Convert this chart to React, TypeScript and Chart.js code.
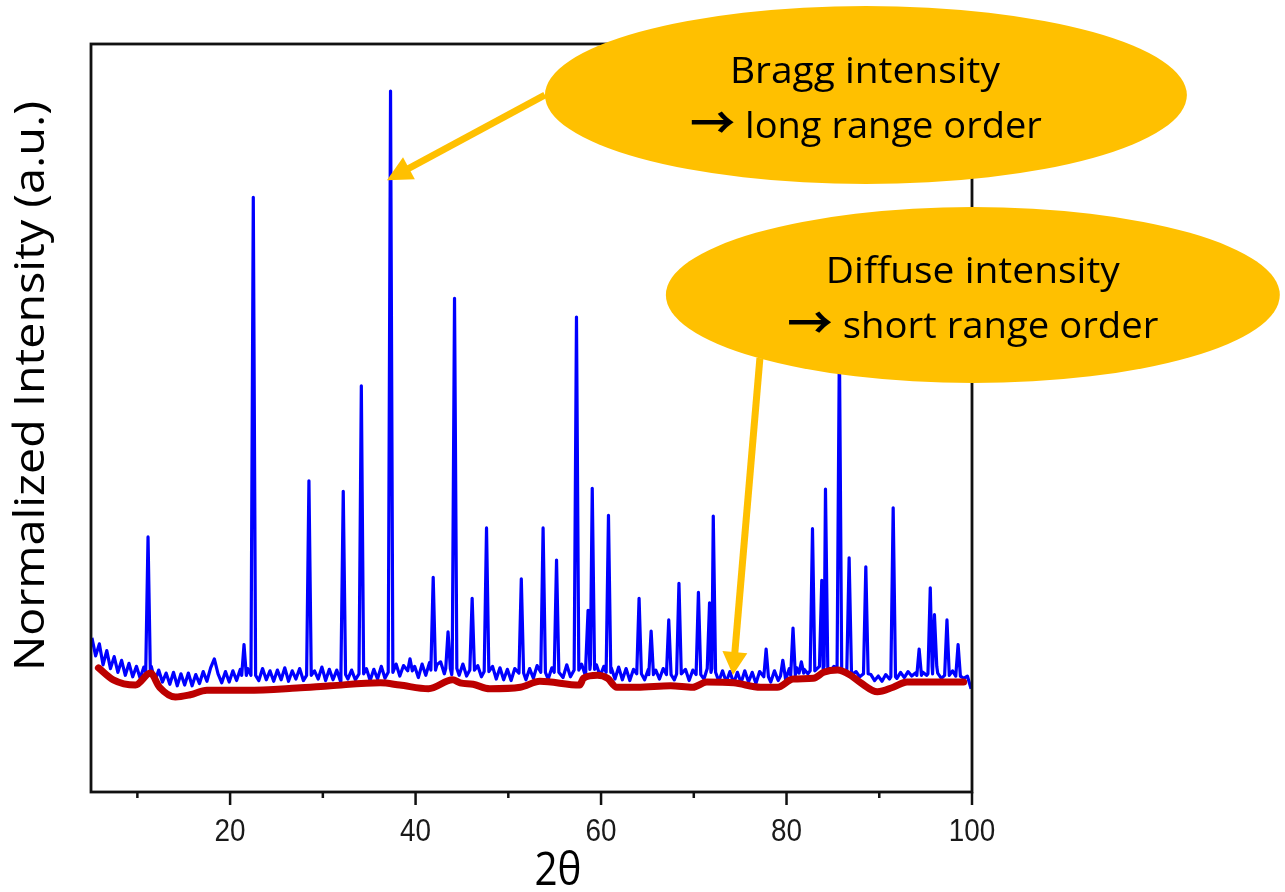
import React, { useEffect, useRef } from "react";
import { Chart, registerables } from "chart.js";

Chart.register(...registerables);

// Measured scan grid (degrees 2θ)
const SCAN_START = 5.1;
const SCAN_STEP = 0.4;

// Background counts on the scan grid (normalized units)
const backgroundCounts = [
  20.6, 18.2, 19.8, 17.0, 18.9, 16.5, 18.1, 16.0, 17.6, 15.6,
  17.2, 15.4, 16.8, 15.2, 16.7, 15.1, 16.8, 14.8, 16.3, 14.7,
  15.9, 14.4, 16.0, 14.2, 15.8, 14.3, 15.9, 14.2, 15.7, 14.5,
  16.1, 14.8, 16.6, 17.8, 15.8, 14.6, 16.1, 14.7, 16.2, 14.9,
  16.4, 15.0, 16.5, 14.8, 16.3, 14.9, 16.5, 15.0, 16.2, 14.8,
  16.3, 15.0, 16.6, 14.8, 16.2, 15.1, 16.5, 14.9, 16.4, 14.8,
  16.2, 15.1, 16.7, 14.9, 16.4, 15.0, 16.3, 14.8, 16.6, 15.1,
  16.3, 15.0, 16.7, 15.1, 16.5, 14.9, 16.4, 15.1, 16.8, 15.2,
  16.6, 15.4, 17.1, 15.5, 16.9, 17.4, 15.4, 16.8, 15.3, 17.1,
  15.6, 17.3, 15.7, 17.0, 17.4, 15.8, 17.4, 15.7, 17.2, 15.6,
  17.1, 15.5, 17.0, 15.3, 16.9, 15.4, 16.7, 15.2, 16.8, 15.1,
  16.6, 15.0, 16.4, 14.9, 16.5, 15.1, 16.7, 15.0, 16.5, 15.2,
  16.9, 15.3, 16.8, 15.1, 16.6, 15.2, 16.7, 15.3, 17.0, 15.4,
  16.9, 15.5, 17.1, 15.6, 17.3, 15.7, 17.0, 15.5, 16.8, 15.2,
  16.6, 15.1, 16.7, 15.0, 16.5, 14.9, 16.4, 15.1, 16.6, 15.0,
  16.4, 14.8, 16.3, 15.1, 16.5, 14.9, 16.3, 15.0, 16.6, 15.1,
  16.4, 14.9, 16.3, 15.0, 16.5, 15.1, 16.7, 15.2, 16.4, 14.8,
  16.2, 14.7, 16.1, 14.5, 16.0, 14.6, 16.2, 14.7, 16.0, 14.5,
  16.1, 14.8, 16.3, 14.7, 16.2, 14.9, 16.4, 15.0, 16.5, 15.1,
  16.6, 16.1, 16.4, 15.8, 16.5, 16.0, 16.6, 16.2, 16.7, 16.1,
  16.8, 16.3, 16.7, 16.0, 16.4, 15.7, 16.1, 15.4, 15.8, 15.2,
  15.7, 14.9, 15.5, 14.8, 15.7, 15.1, 15.8, 15.2, 16.0, 15.3,
  16.1, 15.5, 15.9, 15.2, 16.0, 15.6, 16.1, 15.3, 15.9, 15.2,
  16.0, 15.3, 16.2, 15.1, 16.1, 15.2, 15.5, 13.8,
];

// Bragg reflections: [2θ, apex intensity, foot intensity]
const braggPeaks: [number, number, number][] = [
  [11.15, 34.1, 16.0],
  [21.5, 19.7, 15.6],
  [22.5, 79.5, 15.6],
  [28.5, 41.6, 15.6],
  [32.2, 40.2, 15.7],
  [34.15, 54.3, 15.8],
  [37.3, 93.7, 16.0],
  [39.4, 17.8, 16.2],
  [41.9, 28.7, 16.3],
  [43.5, 21.4, 16.5],
  [44.2, 66.0, 16.5],
  [46.1, 25.9, 16.3],
  [47.65, 35.3, 16.1],
  [51.4, 28.5, 15.9],
  [53.75, 35.3, 16.0],
  [55.2, 31.0, 16.0],
  [57.35, 63.5, 16.3],
  [58.6, 24.3, 17.0],
  [59.05, 40.6, 16.4],
  [60.8, 37.0, 16.0],
  [64.1, 25.9, 15.8],
  [65.4, 21.5, 15.7],
  [67.3, 23.0, 15.7],
  [68.4, 27.9, 15.8],
  [70.5, 26.7, 15.7],
  [71.7, 25.3, 16.5],
  [72.1, 36.9, 16.0],
  [77.8, 19.1, 15.4],
  [79.6, 17.6, 15.5],
  [80.7, 21.9, 15.6],
  [81.6, 17.4, 15.9],
  [82.8, 35.2, 16.2],
  [83.8, 28.3, 16.8],
  [84.2, 40.5, 16.4],
  [85.7, 60.0, 16.5],
  [86.75, 31.3, 16.2],
  [88.55, 30.1, 15.8],
  [91.5, 38.0, 15.4],
  [94.3, 19.1, 15.6],
  [95.5, 27.3, 15.8],
  [95.95, 23.7, 16.8],
  [97.3, 23.0, 15.6],
  [98.5, 19.7, 15.5],
];

// Diffuse (short range order) intensity: [2θ, intensity]
const diffuseCurve: [number, number][] = [
  [5.8, 16.6], [7.4, 15.0], [9.8, 14.3], [11.4, 15.9], [12.4, 14.0],
  [14.1, 12.7], [15.7, 13.0], [17.5, 13.6], [21.8, 13.6], [27.2, 13.9],
  [30.8, 14.2], [36.2, 14.6], [38.3, 14.3], [41.4, 13.8], [44.0, 15.0],
  [44.8, 14.6], [46.2, 14.4], [48.0, 13.8], [51.3, 14.0], [53.4, 14.8],
  [57.7, 14.3], [58.1, 15.2], [59.6, 15.6], [60.7, 15.2], [61.7, 14.0],
  [63.9, 14.0], [67.5, 14.2], [69.9, 14.0], [71.4, 14.7], [74.3, 14.6],
  [77.2, 14.0], [79.0, 14.0], [80.7, 15.1], [82.9, 15.2], [84.0, 16.0],
  [85.5, 16.3], [86.9, 15.6], [88.0, 14.6], [89.8, 13.4], [91.5, 14.0],
  [93.0, 14.7], [95.2, 14.7], [99.1, 14.7],
];

const X_MIN = 5;
const X_MAX = 100;
const majorTicks = [20, 40, 60, 80, 100];
const minorTicks = [10, 30, 50, 70, 90];
const xTitle = "2θ";
const yTitle = "Normalized Intensity (a.u.)";
const braggNote = ["Bragg intensity", "→ long range order"];
const diffuseNote = ["Diffuse intensity", "→ short range order"];

// Callout geometry in data units (2θ, intensity)
const braggBubble = { x: 88.56, y: 93.18, rx: 34.61, ry: 11.9 };
const diffuseBubble = { x: 100.09, y: 66.44, rx: 33.1, ry: 11.76 };
const braggArrow = { from: [53.95, 93.18], to: [36.91, 81.8] };
const diffuseArrow = { from: [77.13, 58.0], to: [74.22, 15.64] };

const PEAK_HALF_WIDTH = 0.25;
const GOLD = "#FFC000";
const SANS = '"Open Sans", "Noto Sans", "DejaVu Sans", sans-serif';
const ARROW_FONT = '"Noto Sans CJK JP", "DejaVu Sans", sans-serif';

function buildScan() {
  const pts: { x: number; y: number }[] = [];
  backgroundCounts.forEach((v, i) => {
    const x = +(SCAN_START + i * SCAN_STEP).toFixed(2);
    if (braggPeaks.some(([a]) => Math.abs(x - a) < PEAK_HALF_WIDTH + 0.05)) return;
    pts.push({ x, y: v });
  });
  braggPeaks.forEach(([a, apex, foot]) => {
    pts.push({ x: a - PEAK_HALF_WIDTH, y: foot });
    pts.push({ x: a, y: apex });
    pts.push({ x: a + PEAK_HALF_WIDTH, y: foot });
  });
  pts.sort((p, q) => p.x - q.x);
  return pts;
}

function squeezedText(
  ctx: CanvasRenderingContext2D,
  text: string,
  x: number,
  y: number,
  font: string,
  width: number,
  rotate = 0
) {
  ctx.save();
  ctx.font = font;
  const natural = ctx.measureText(text).width;
  ctx.translate(x, y);
  if (rotate) ctx.rotate(rotate);
  ctx.scale(width / natural, 1);
  ctx.textAlign = "center";
  ctx.textBaseline = "alphabetic";
  ctx.fillText(text, 0, 0);
  ctx.restore();
}

// A callout line; a leading arrow glyph is set in a heavier font with an open arrowhead
function noteLine(
  ctx: CanvasRenderingContext2D,
  text: string,
  cx: number,
  baseline: number,
  size: number,
  width: number
) {
  if (!text.startsWith("→")) {
    squeezedText(ctx, text, cx, baseline, `${size}px ${SANS}`, width);
    return;
  }
  const rest = text.slice(1);
  const arrowFont = `bold ${Math.round(size * 1.2)}px ${ARROW_FONT}`;
  ctx.save();
  ctx.font = arrowFont;
  const wa = ctx.measureText("→").width;
  ctx.font = `${size}px ${SANS}`;
  const wr = ctx.measureText(rest).width;
  const s = width / (wa + wr);
  ctx.translate(cx - width / 2, baseline);
  ctx.scale(s, 1);
  ctx.textAlign = "left";
  ctx.textBaseline = "alphabetic";
  ctx.font = arrowFont;
  ctx.fillText("→", 0, 1);
  ctx.font = `${size}px ${SANS}`;
  ctx.fillText(rest, wa, 0);
  ctx.restore();
}

function arrow(
  ctx: CanvasRenderingContext2D,
  x0: number,
  y0: number,
  x1: number,
  y1: number,
  shaft: number,
  headLen: number,
  headHalf: number
) {
  const dx = x1 - x0;
  const dy = y1 - y0;
  const len = Math.hypot(dx, dy);
  const ux = dx / len;
  const uy = dy / len;
  const bx = x1 - ux * headLen;
  const by = y1 - uy * headLen;
  ctx.save();
  ctx.strokeStyle = GOLD;
  ctx.fillStyle = GOLD;
  ctx.lineWidth = shaft;
  ctx.beginPath();
  ctx.moveTo(x0, y0);
  ctx.lineTo(bx + ux * 2, by + uy * 2);
  ctx.stroke();
  ctx.beginPath();
  ctx.moveTo(x1, y1);
  ctx.lineTo(bx - uy * headHalf, by + ux * headHalf);
  ctx.lineTo(bx + uy * headHalf, by - ux * headHalf);
  ctx.closePath();
  ctx.fill();
  ctx.restore();
}

const framePlugin = {
  id: "xrdFrame",
  afterDraw(chart: any) {
    const ctx: CanvasRenderingContext2D = chart.ctx;
    const { left, right, top, bottom } = chart.chartArea;
    const xs = chart.scales.x;
    const ys = chart.scales.y;
    const P = (x: number, y: number) => [xs.getPixelForValue(x), ys.getPixelForValue(y)];

    // plot box
    ctx.save();
    ctx.strokeStyle = "#111";
    ctx.lineWidth = 2.8;
    ctx.strokeRect(left, top, right - left, bottom - top);

    // x ticks
    ctx.lineWidth = 2.5;
    ctx.beginPath();
    majorTicks.forEach((t) => {
      const px = xs.getPixelForValue(t);
      ctx.moveTo(px, bottom);
      ctx.lineTo(px, bottom + 13);
    });
    minorTicks.forEach((t) => {
      const px = xs.getPixelForValue(t);
      ctx.moveTo(px, bottom);
      ctx.lineTo(px, bottom + 6);
    });
    ctx.stroke();

    // tick labels
    ctx.fillStyle = "#1a1a1a";
    const tickFont = '32px "Liberation Sans", Arial, sans-serif';
    ctx.font = tickFont;
    const tickSqueeze = 31 / ctx.measureText("20").width;
    majorTicks.forEach((t) => {
      const label = String(t);
      ctx.font = tickFont;
      const w = ctx.measureText(label).width * tickSqueeze;
      squeezedText(ctx, label, xs.getPixelForValue(t), bottom + 49, tickFont, w);
    });

    // axis titles
    ctx.fillStyle = "#000";
    squeezedText(ctx, xTitle, 558, 885, `46px ${SANS}`, 47);
    squeezedText(ctx, yTitle, 44, 386, `42px ${SANS}`, 570, -Math.PI / 2);

    // callouts
    const [a0x, a0y] = P(braggArrow.from[0], braggArrow.from[1]);
    const [a1x, a1y] = P(braggArrow.to[0], braggArrow.to[1]);
    arrow(ctx, a0x, a0y, a1x, a1y, 7, 25, 12.5);
    const [b0x, b0y] = P(diffuseArrow.from[0], diffuseArrow.from[1]);
    const [b1x, b1y] = P(diffuseArrow.to[0], diffuseArrow.to[1]);
    arrow(ctx, b0x, b0y, b1x, b1y, 7, 23, 12.5);

    const bubbles = [
      { b: braggBubble, lines: braggNote, widths: [270, 352], shift: [-1, 0] },
      { b: diffuseBubble, lines: diffuseNote, widths: [294, 371], shift: [0, 0] },
    ];
    bubbles.forEach(({ b, lines, widths, shift }) => {
      const [cx, cy] = P(b.x, b.y);
      const rx = Math.abs(xs.getPixelForValue(b.x + b.rx) - cx);
      const ry = Math.abs(ys.getPixelForValue(b.y + b.ry) - cy);
      ctx.fillStyle = GOLD;
      ctx.beginPath();
      ctx.ellipse(cx, cy, rx, ry, 0, 0, Math.PI * 2);
      ctx.fill();
      ctx.fillStyle = "#000";
      noteLine(ctx, lines[0], cx + shift[0], cy - 12, 37, widths[0]);
      noteLine(ctx, lines[1], cx + shift[1], cy + 43, 37, widths[1]);
    });
    ctx.restore();
  },
};

export default function App() {
  const canvasRef = useRef<HTMLCanvasElement | null>(null);

  useEffect(() => {
    if (!canvasRef.current) return;
    const chart = new Chart(canvasRef.current, {
      type: "line",
      data: {
        datasets: [
          {
            label: "Diffuse intensity",
            data: diffuseCurve.map(([x, y]) => ({ x, y })),
            borderColor: "#BC0000",
            borderWidth: 7,
            pointRadius: 0,
            cubicInterpolationMode: "monotone",
            borderCapStyle: "round",
            borderJoinStyle: "round",
            order: 0,
          },
          {
            label: "Bragg intensity",
            data: buildScan(),
            borderColor: "#0000FF",
            borderWidth: 3.2,
            pointRadius: 0,
            tension: 0,
            borderJoinStyle: "round",
            order: 1,
          },
        ],
      },
      options: {
        animation: false,
        responsive: true,
        maintainAspectRatio: false,
        layout: { padding: { left: 91, right: 313, top: 44, bottom: 0 } },
        plugins: { legend: { display: false }, tooltip: { enabled: false } },
        scales: {
          x: {
            type: "linear",
            min: X_MIN,
            max: X_MAX,
            grid: { display: false },
            border: { display: false },
            ticks: { display: false },
            afterFit: (s: any) => {
              s.height = 100;
            },
          },
          y: { type: "linear", min: 0, max: 100, display: false },
        },
      } as any,
      plugins: [framePlugin],
    });
    return () => chart.destroy();
  }, []);

  return (
    <div style={{ position: "absolute", left: 0, top: 0, width: 1285, height: 892, background: "#fff" }}>
      <canvas ref={canvasRef} />
    </div>
  );
}
